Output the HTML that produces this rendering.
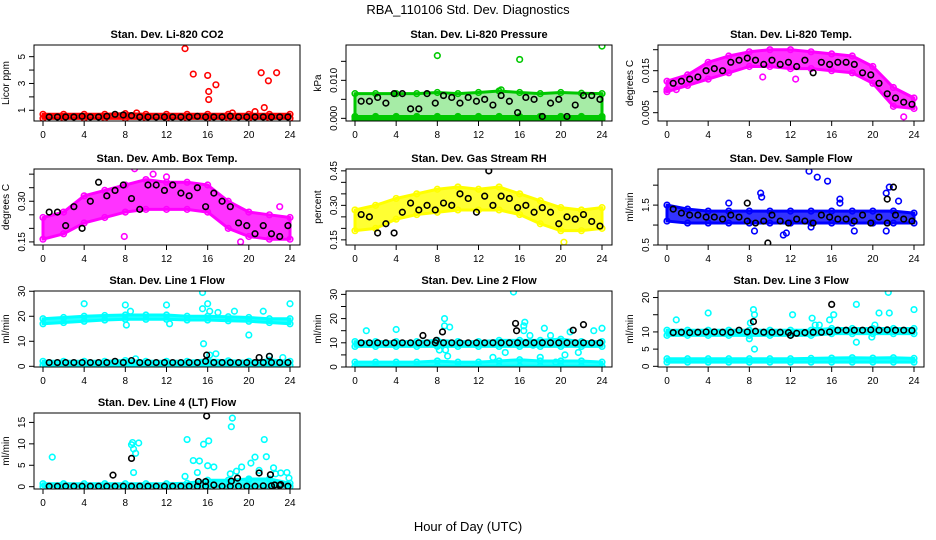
<!DOCTYPE html>
<html><head><meta charset="utf-8"><style>
html,body{margin:0;padding:0;background:#fff;}
svg{display:block;font-family:"Liberation Sans",Arial,sans-serif;}
</style></head><body>
<svg id="chart" width="936" height="540" viewBox="0 0 936 540" xmlns="http://www.w3.org/2000/svg">
<text x="468" y="14" text-anchor="middle" font-size="13">RBA_110106  Std. Dev. Diagnostics</text>
<text x="468" y="531" text-anchor="middle" font-size="13">Hour of Day (UTC)</text>
</svg>
<script>
// ---- data ----
const bandHours = [0,2,4,6,8,10,12,14,16,18,20,22,24];
const blackHours = [0.6,1.4,2.2,3.0,3.8,4.6,5.4,6.2,7.0,7.8,8.6,9.4,10.2,11.0,11.8,12.6,13.4,14.2,15.0,15.8,16.6,17.4,18.2,19.0,19.8,20.6,21.4,22.2,23.0,23.8];
const xTicks = [0,4,8,12,16,20,24];

// CO2
const co2Lo = [0.4,0.4,0.4,0.4,0.4,0.4,0.4,0.4,0.4,0.4,0.4,0.4,0.4];
const co2Hi = [0.7,0.7,0.7,0.7,0.75,0.7,0.7,0.7,0.7,0.7,0.7,0.7,0.7];
const co2Black = [0.5,0.5,0.5,0.5,0.55,0.5,0.5,0.55,0.7,0.65,0.6,0.5,0.5,0.5,0.5,0.5,0.5,0.5,0.55,0.5,0.5,0.5,0.55,0.5,0.5,0.5,0.5,0.5,0.5,0.5];
const co2OutX = [13.8,14.6,16.0,16.1,16.1,16.8,21.2,21.9,22.7,21.5,20.6,18.4,9.1];
const co2OutY = [5.6,3.7,3.6,2.4,1.8,2.9,3.8,3.2,3.8,1.2,0.9,0.8,0.8];

// Pressure
const prLo = [0.0005,0.0005,0.0005,0.0005,0.0005,0.0005,0.0005,0.0005,0.0005,0.0005,0.0005,0.0005,0.0005];
const prHi = [0.0065,0.0065,0.0065,0.0065,0.0068,0.0065,0.0068,0.0072,0.0068,0.0065,0.0068,0.0066,0.0065];
const prFloorLo = [-0.0002,-0.0002,-0.0002,-0.0002,-0.0002,-0.0002,-0.0002,-0.0002,-0.0002,-0.0002,-0.0002,-0.0002,-0.0002];
const prFloorHi = [0.0003,0.0003,0.0003,0.0003,0.0003,0.0003,0.0003,0.0003,0.0003,0.0003,0.0003,0.0003,0.0003];
const prBlack = [0.0045,0.0045,0.0055,0.004,0.0065,0.0065,0.0025,0.0025,0.0065,0.004,0.006,0.0055,0.004,0.0055,0.0045,0.005,0.0035,0.006,0.0045,0.0015,0.0055,0.005,0.0005,0.004,0.005,0.0005,0.0035,0.006,0.006,0.005];
const prOutX = [8,16,24,14.2];
const prOutY = [0.0165,0.0155,0.019,0.0075];

// Li-820 Temp
const ltLo = [0.010,0.0115,0.013,0.0145,0.016,0.016,0.0155,0.0155,0.015,0.0145,0.012,0.0065,0.006];
const ltHi = [0.0125,0.014,0.017,0.0185,0.0195,0.020,0.020,0.0195,0.019,0.0185,0.016,0.011,0.0085];
const ltBlack = [0.012,0.0125,0.013,0.0135,0.015,0.0155,0.015,0.017,0.0175,0.018,0.0175,0.0165,0.0175,0.0165,0.017,0.016,0.0175,0.0145,0.017,0.0165,0.017,0.017,0.0165,0.0145,0.014,0.012,0.0095,0.0085,0.0075,0.007];
const ltOutX = [0,0.9,23,9.3,12.5];
const ltOutY = [0.0105,0.0105,0.004,0.0135,0.013];

// Amb box temp
const abLo = [0.16,0.18,0.22,0.24,0.26,0.27,0.27,0.27,0.26,0.2,0.17,0.16,0.16];
const abHi = [0.24,0.26,0.32,0.34,0.36,0.38,0.37,0.37,0.36,0.3,0.26,0.25,0.24];
const abBlack = [0.26,0.26,0.21,0.28,0.20,0.30,0.37,0.32,0.34,0.36,0.31,0.27,0.36,0.36,0.34,0.36,0.33,0.32,0.35,0.28,0.33,0.30,0.28,0.22,0.21,0.18,0.21,0.18,0.17,0.21];
const abOutX = [8.9,10.7,12,7.9,19.2,23];
const abOutY = [0.42,0.40,0.39,0.17,0.15,0.28];

// Gas stream RH
const rhLo = [0.19,0.2,0.24,0.26,0.27,0.28,0.28,0.28,0.26,0.22,0.19,0.19,0.2];
const rhHi = [0.28,0.3,0.33,0.35,0.37,0.38,0.37,0.38,0.35,0.32,0.29,0.28,0.29];
const rhBlack = [0.26,0.25,0.18,0.22,0.18,0.27,0.31,0.28,0.30,0.28,0.31,0.30,0.35,0.33,0.27,0.34,0.30,0.34,0.33,0.29,0.30,0.27,0.29,0.27,0.22,0.25,0.24,0.26,0.23,0.21];
const rhOutX = [20.3];
const rhOutY = [0.14];
const rhBlackOutX = [13];
const rhBlackOutY = [0.45];

// Sample flow
const sfLo = [1.1,1.05,1.05,1.05,1.05,1.05,1.05,1.05,1.05,1.05,1.05,1.05,1.05];
const sfHi = [1.5,1.4,1.35,1.35,1.35,1.35,1.35,1.35,1.35,1.35,1.35,1.35,1.3];
const sfBlack = [1.4,1.3,1.25,1.25,1.2,1.2,1.15,1.25,1.2,1.1,1.05,1.1,1.25,1.1,1.05,1.15,1.1,1.05,1.25,1.2,1.15,1.15,1.1,1.25,1.05,1.2,1.05,1.25,1.15,1.1];
const sfOutX = [13.8,14.6,15.6,9.1,9.2,21.6,21.3,11.3,11.6,14,18.2,21.3,22.5,16.8,16.8,6.0,8.5];
const sfOutY = [2.35,2.2,2.1,1.8,1.7,1.95,1.8,0.75,0.8,0.95,0.85,0.85,1.6,1.65,1.55,1.55,0.85];
const sfBlackOutX = [7.8,9.8,21.4,22.0];
const sfBlackOutY = [1.55,0.55,1.65,1.95];

// Line 1
const l1HiLo = [17,17.5,18,18.5,18.8,18.8,18.8,18.5,18.5,18.2,18,17.5,17];
const l1HiHi = [19,19.5,20,20.3,20.5,20.5,20.5,20,20,19.8,19.5,19,19];
const l1LoLo = [0.5,0.5,0.5,0.5,0.5,0.5,0.5,0.5,0.5,0.5,0.5,0.5,0.5];
const l1LoHi = [2,2,2,2,2.3,2,2,2,2.5,2.2,2,2.5,2];
const l1Black = [1.5,1.5,1.5,1.5,1.5,1.5,1.5,1.5,2.0,1.5,2.3,1.5,1.5,1.5,1.5,1.5,1.5,1.5,1.5,2.0,1.5,1.5,1.5,1.5,1.5,1.5,1.5,1.5,1.5,1.5];
const l1OutX = [4,8,12,15.5,16,15.5,16.2,17,18.6,20,15.6,24,21.4,8.1,8.5,16.2,16.8,22,23.3,9,12.3];
const l1OutY = [25,24.5,24.5,29.5,25,23,22,21.5,22,12.5,9,25,22,16.5,22,4.5,5,4,3.5,3,17];
const l1BlackOutX = [15.9,21,22];
const l1BlackOutY = [4.5,3.5,4];

// Line 2
const l2HiLo = [8.5,8.5,8.5,8.5,8.5,8.5,8.5,8.5,8.5,8.5,8.5,8.5,8.5];
const l2HiHi = [10.5,10.5,10.5,10.5,11,10.5,10.5,11,11,11,11.5,10.5,10.5];
const l2LoLo = [0.3,0.3,0.3,0.3,0.3,0.3,0.3,0.3,0.3,0.3,0.3,0.3,0.3];
const l2LoHi = [2,2,2,2,2.5,2,2,2.5,3,2.5,2.5,2.5,2];
const l2Black = [10,10,10,10,10,10,10,10,10,10,10,10,10,10,10,10,10,10,10,10,10,10,10,10,10,10,10,10,10,10];
const l2OutX = [1.1,4,9.2,8.7,8.7,8.2,8.8,9,15.4,16.4,16.5,16.4,17,18.4,19,20.9,23.2,24,14.6,13.4,17.3,18,20.4,21.7,19.5];
const l2OutY = [15,15.5,16.5,20,17,7,7,4.5,31,17,18.5,15,13,16,13,14.5,15,16,6,4,9,4,5,6,2];
const l2BlackOutX = [6.6,7.9,8.5,15.6,15.7,21.2,22.2];
const l2BlackOutY = [13,11,14.5,18,15,15.2,17.5];

// Line 3
const l3HiLo = [9,9,9,9,9,9,9,9,9.5,9.5,9.5,9.5,9.5];
const l3HiHi = [10.5,10.5,10.5,10.5,10.5,10.5,10.5,10.5,11,11,11,11,11];
const l3LoLo = [1.2,1.2,1.2,1.2,1.2,1.2,1.2,1.2,1.2,1.2,1.2,1.2,1.2];
const l3LoHi = [2.2,2.2,2.2,2.2,2.2,2.2,2.2,2.3,2.4,2.5,2.4,2.5,2.3];
const l3Black = [9.8,9.9,9.8,9.9,10,10,9.9,9.9,10.5,10,10.2,9.9,9.9,9.9,9.8,9.6,9.8,9.9,9.9,10,10.5,10.5,10.5,10.5,10.6,10.5,10.6,10.5,10.5,10.4];
const l3OutX = [0.9,4,8.1,8.4,8.5,8.5,8.0,12.2,14.1,14.4,14.8,15.8,16.2,18.4,18.4,19.9,20.6,21.5,21.6,24,20.2];
const l3OutY = [13.5,15.5,12.6,16.5,15,5,8,15,14,12,12,13.5,15,18,7,8.5,15.5,21.5,15.5,16.5,12];
const l3BlackOutX = [16,8.4,12];
const l3BlackOutY = [18,13,9];

// Line 4
const l4Lo = [0,0,0,0,0,0,0,0,0,0,0,0,0];
const l4Hi = [0.7,0.7,0.7,0.7,0.7,0.7,0.7,0.8,1.5,1.5,1.8,1.8,0.8];
const l4Black = [0.1,0.1,0.1,0.1,0.1,0.1,0.1,0.1,0.1,0.1,0.1,0.1,0.1,0.1,0.1,0.1,0.1,0.1,0.1,0.1,0.4,0.1,0.1,0.1,0.1,0.1,0.2,0.2,0.3,0.1];
const l4OutX = [0.9,8.7,8.6,8.8,9.0,9.3,8.8,14,14.6,15.2,15.6,16.1,16,16.6,15,13.8,18.3,18.4,18.8,19.3,20.2,20.6,21.5,21.7,22.4,22.6,23.1,23.7,23.9,20,21,18.2];
const l4OutY = [6.9,10.3,9.8,8.8,7.8,10.2,3.3,11,6.1,6,9.9,10.7,4.9,4.6,3.3,2.4,14,16,3.6,4.6,5.5,6.9,11,7,4.4,3,3.2,3.3,2,1.6,3.8,3];
const l4BlackOutX = [6.8,8.6,15.9,15.1,15.8,18.3,18.9,21,22.1,22.5,23.1];
const l4BlackOutY = [2.7,6.6,16.5,1.2,1.2,1.3,2,3.2,2.8,0.4,0.5];

// ---- rendering ----
const svg = document.getElementById('chart');
const NS = 'http://www.w3.org/2000/svg';
function mk(tag, attrs, parent) {
  const e = document.createElementNS(NS, tag);
  for (const k in attrs) e.setAttribute(k, attrs[k]);
  (parent || svg).appendChild(e);
  return e;
}

const panels = [
 {key:'co2', title:'Stan. Dev. Li-820 CO2', ylab:'Licor ppm', col:'#ff0000', bx:34, by:45, ymin:0.2, ymax:5.87, ticks:[1,2,3,4,5], labels:['1','','3','','5'],
  bands:[[co2Lo,co2Hi,0.85]], black:co2Black, ox:co2OutX, oy:co2OutY, bkx:[], bky:[]},
 {key:'pressure', title:'Stan. Dev. Li-820 Pressure', ylab:'kPa', col:'#00c800', bx:346, by:45, ymin:-0.0007, ymax:0.0193, ticks:[0,0.005,0.01,0.015], labels:['0.000','','0.010',''],
  bands:[[prLo,prHi,0.35],[prFloorLo,prFloorHi,0.9]], black:prBlack, ox:prOutX, oy:prOutY, bkx:[], bky:[]},
 {key:'li-temp', title:'Stan. Dev. Li-820 Temp.', ylab:'degrees C', col:'#ff00ff', bx:658, by:45, ymin:0.00302, ymax:0.02112, ticks:[0.005,0.01,0.015,0.02], labels:['0.005','','0.015',''],
  bands:[[ltLo,ltHi,0.8]], black:ltBlack, ox:ltOutX, oy:ltOutY, bkx:[], bky:[]},
 {key:'amb-temp', title:'Stan. Dev. Amb. Box Temp.', ylab:'degrees C', col:'#ff00ff', bx:34, by:169, ymin:0.1386, ymax:0.419, ticks:[0.15,0.2,0.25,0.3,0.35,0.4], labels:['0.15','','','0.30','',''],
  bands:[[abLo,abHi,0.8]], black:abBlack, ox:abOutX, oy:abOutY, bkx:[], bky:[]},
 {key:'rh', title:'Stan. Dev. Gas Stream RH', ylab:'percent', col:'#ffff00', bx:346, by:169, ymin:0.1277, ymax:0.458, ticks:[0.15,0.2,0.25,0.3,0.35,0.4,0.45], labels:['0.15','','','0.30','','','0.45'],
  bands:[[rhLo,rhHi,0.8]], black:rhBlack, ox:rhOutX, oy:rhOutY, bkx:rhBlackOutX, bky:rhBlackOutY},
 {key:'sample-flow', title:'Stan. Dev. Sample Flow', ylab:'ml/min', col:'#0000ff', bx:658, by:169, ymin:0.5, ymax:2.405, ticks:[0.5,1,1.5,2], labels:['0.5','','1.5',''],
  bands:[[sfLo,sfHi,0.8]], black:sfBlack, ox:sfOutX, oy:sfOutY, bkx:sfBlackOutX, bky:sfBlackOutY},
 {key:'line1', title:'Stan. Dev. Line 1 Flow', ylab:'ml/min', col:'#00ffff', bx:34, by:291, ymin:-0.28, ymax:30.1, ticks:[0,10,20,30], labels:['0','10','20','30'],
  bands:[[l1HiLo,l1HiHi,0.85],[l1LoLo,l1LoHi,0.85]], black:l1Black, ox:l1OutX, oy:l1OutY, bkx:l1BlackOutX, bky:l1BlackOutY},
 {key:'line2', title:'Stan. Dev. Line 2 Flow', ylab:'ml/min', col:'#00ffff', bx:346, by:291, ymin:0, ymax:31.4, ticks:[0,5,10,15,20,25,30], labels:['0','','10','','20','','30'],
  bands:[[l2HiLo,l2HiHi,0.85],[l2LoLo,l2LoHi,0.85]], black:l2Black, ox:l2OutX, oy:l2OutY, bkx:l2BlackOutX, bky:l2BlackOutY},
 {key:'line3', title:'Stan. Dev. Line 3 Flow', ylab:'ml/min', col:'#00ffff', bx:658, by:291, ymin:-0.2, ymax:21.9, ticks:[0,5,10,15,20], labels:['0','5','10','','20'],
  bands:[[l3HiLo,l3HiHi,0.85],[l3LoLo,l3LoHi,0.85]], black:l3Black, ox:l3OutX, oy:l3OutY, bkx:l3BlackOutX, bky:l3BlackOutY},
 {key:'line4', title:'Stan. Dev. Line 4 (LT) Flow', ylab:'ml/min', col:'#00ffff', bx:34, by:413, ymin:-0.54, ymax:17.2, ticks:[0,5,10,15], labels:['0','5','10','15'],
  bands:[[l4Lo,l4Hi,0.85]], black:l4Black, ox:l4OutX, oy:l4OutY, bkx:l4BlackOutX, bky:l4BlackOutY}
];

const W = 266, H = 76;
panels.forEach(p => {
  const g = mk('g', {});
  
  
  const xs = h => p.bx + 9 + h * (247 / 24);
  const ys = v => p.by + H - (v - p.ymin) / (p.ymax - p.ymin) * H;
  const clip = mk('clipPath', {id: 'clip-' + p.key}, g);
  mk('rect', {x: p.bx, y: p.by, width: W, height: H}, clip);
  const plot = mk('g', {'clip-path': 'url(#clip-' + p.key + ')'}, g);

  p.bands.forEach(b => {
    const lo = b[0], hi = b[1];
    let pts = bandHours.map((h, i) => xs(h) + ',' + ys(hi[i]));
    pts = pts.concat(bandHours.map((h, i) => xs(h) + ',' + ys(lo[i])).reverse());
    const poly = mk('polygon', {points: pts.join(' '), fill: p.col, 'fill-opacity': b[2], stroke: p.col, 'stroke-width': 3, 'stroke-linejoin': 'round'}, plot);
    
    
    bandHours.forEach((h, i) => {
      [hi[i], lo[i]].forEach(v => {
        const c = mk('circle', {cx: xs(h), cy: ys(v), r: 2.8, fill: 'none', stroke: p.col, 'stroke-width': 1.6}, plot);
        
        
      });
    });
  });
  p.ox.forEach((h, i) => {
    const c = mk('circle', {cx: xs(h), cy: ys(p.oy[i]), r: 2.8, fill: 'none', stroke: p.col, 'stroke-width': 1.6}, plot);
    
    
  });
  blackHours.forEach((h, i) => {
    const c = mk('circle', {cx: xs(h), cy: ys(p.black[i]), r: 2.8, fill: 'none', stroke: '#000', 'stroke-width': 1.6}, plot);
    
    
  });
  p.bkx.forEach((h, i) => {
    const c = mk('circle', {cx: xs(h), cy: ys(p.bky[i]), r: 2.8, fill: 'none', stroke: '#000', 'stroke-width': 1.6}, plot);
    
    
  });

  const box = mk('rect', {x: p.bx, y: p.by, width: W, height: H, fill: 'none', stroke: '#000', 'stroke-width': 1}, g);
  
  
  const t = mk('text', {x: p.bx + W / 2, y: p.by - 7, 'text-anchor': 'middle', 'font-size': 11, 'font-weight': 'bold'}, g);
  t.textContent = p.title;
  
  
  const xa = mk('g', {}, g);
  
  
  mk('line', {x1: xs(0), x2: xs(24), y1: p.by + H, y2: p.by + H, stroke: '#000'}, xa);
  xTicks.forEach(v => {
    mk('line', {x1: xs(v), x2: xs(v), y1: p.by + H, y2: p.by + H + 5, stroke: '#000'}, xa);
    const tl = mk('text', {x: xs(v), y: p.by + H + 17, 'text-anchor': 'middle', 'font-size': 10}, xa);
    tl.textContent = v;
    
    
  });
  const ya = mk('g', {}, g);
  
  
  mk('line', {x1: p.bx, x2: p.bx, y1: ys(p.ticks[0]), y2: ys(p.ticks[p.ticks.length - 1]), stroke: '#000'}, ya);
  p.ticks.forEach((v, i) => {
    const y = ys(v);
    mk('line', {x1: p.bx - 5, x2: p.bx, y1: y, y2: y, stroke: '#000'}, ya);
    if (p.labels[i]) {
      const tl = mk('text', {x: p.bx - 9, y: y, 'text-anchor': 'middle', 'font-size': 10, transform: 'rotate(-90 ' + (p.bx - 9) + ' ' + y + ')'}, ya);
      tl.textContent = p.labels[i];
      
      
    }
  });
  const yl = mk('text', {x: p.bx - 25, y: p.by + H / 2, 'text-anchor': 'middle', 'font-size': 10, transform: 'rotate(-90 ' + (p.bx - 25) + ' ' + (p.by + H / 2) + ')'}, ya);
  yl.textContent = p.ylab;
  
  
});
</script>
</body></html>
